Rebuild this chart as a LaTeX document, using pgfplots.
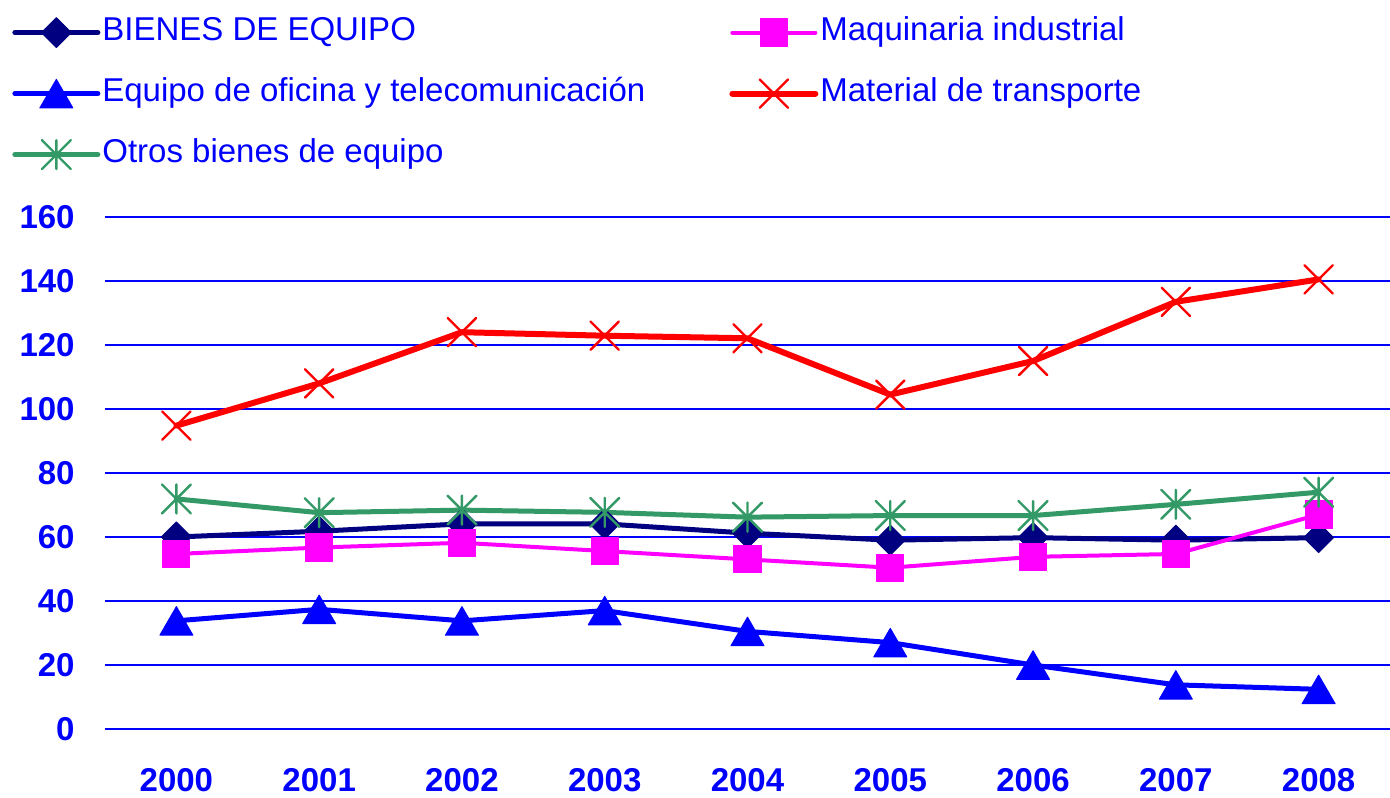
\documentclass[border=0pt]{standalone}
\usepackage{pgfplots}
\pgfplotsset{compat=1.18}
\usepackage{fontspec}
\setmainfont{Liberation Sans}
\definecolor{cnavy}{RGB}{0,0,128}
\definecolor{cmag}{RGB}{255,0,255}
\definecolor{cblue}{RGB}{0,0,255}
\definecolor{cred}{RGB}{255,0,0}
\definecolor{cgreen}{RGB}{51,153,102}
\pgfdeclareplotmark{xstar}{%
  \pgfpathmoveto{\pgfqpoint{0pt}{\pgfplotmarksize}}%
  \pgfpathlineto{\pgfqpoint{0pt}{-\pgfplotmarksize}}%
  \pgfpathmoveto{\pgfqpoint{-\pgfplotmarksize}{-\pgfplotmarksize}}%
  \pgfpathlineto{\pgfqpoint{\pgfplotmarksize}{\pgfplotmarksize}}%
  \pgfpathmoveto{\pgfqpoint{-\pgfplotmarksize}{\pgfplotmarksize}}%
  \pgfpathlineto{\pgfqpoint{\pgfplotmarksize}{-\pgfplotmarksize}}%
  \pgfusepathqstroke}
\begin{document}
\begin{tikzpicture}
\begin{axis}[
  at={(0,0)}, anchor=south west,
  scale only axis, width=642.5pt, height=256pt,
  xmin=1999.5, xmax=2008.5, ymin=0, ymax=160,
  xtick={2000,2001,2002,2003,2004,2005,2006,2007,2008},
  xticklabels={2000,2001,2002,2003,2004,2005,2006,2007,2008},
  ytick={0,20,40,60,80,100,120,140,160},
  yticklabels={0,20,40,60,80,100,120,140,160},
  ymajorgrids, grid style={cblue, line width=1pt},
  axis line style={draw=none}, major tick length=0pt, tick style={draw=none},
  ticklabel style={font=\fontsize{16.5}{20}\selectfont\bfseries, text=cblue},
  yticklabel style={anchor=east, inner sep=0pt, xshift=-15pt},
  xticklabel style={anchor=north, inner sep=0pt, yshift=-19.5pt},
  clip=false,
  legend columns=2, legend cell align=left,
  legend style={draw=none, fill=none, inner sep=0pt,
    at={(axis description cs:-0.0724,1.400)}, anchor=north west,
    font=\fontsize{16.5}{20}\selectfont, text=cblue,
    nodes={inner xsep=1pt, inner ysep=2pt, text height=12pt, text depth=4pt},
    /tikz/column 2/.style={column sep=41pt},
    row sep=10.5pt},
  legend image code/.code={\draw[mark repeat=2,mark phase=2,#1] plot coordinates {(0pt,0pt) (20.75pt,0pt) (41.5pt,0pt)};},
  every axis plot/.append style={line join=round, line cap=round},
]
\addplot[cnavy, line width=2.5pt, mark=square*, mark size=5.3pt, mark options={rotate=45, fill=cnavy, draw=cnavy, line width=0.5pt}]
  coordinates {(2000,60.0) (2001,61.8) (2002,64.1) (2003,64.1) (2004,61.2) (2005,59.0) (2006,59.8) (2007,59.0) (2008,59.8)};
\addlegendentry{BIENES DE EQUIPO}
\addplot[cmag, line width=2pt, mark=square*, mark size=6.8pt, mark options={fill=cmag, draw=cmag, line width=0.5pt, rounded corners=1pt}]
  coordinates {(2000,54.7) (2001,56.7) (2002,58.2) (2003,55.6) (2004,53.0) (2005,50.4) (2006,53.8) (2007,54.7) (2008,67.0)};
\addlegendentry{Maquinaria industrial}
\addplot[cblue, line width=2.5pt, mark=triangle*, mark size=9.5pt, mark options={fill=cblue, draw=cblue, line width=0.5pt, yshift=-2.4pt}]
  coordinates {(2000,33.8) (2001,37.4) (2002,33.8) (2003,37.0) (2004,30.5) (2005,27.0) (2006,20.0) (2007,13.8) (2008,12.4)};
\addlegendentry{Equipo de oficina y telecomunicación}
\addplot[cred, line width=3pt, mark=x, mark size=10pt, mark options={draw=cred, line width=1.2pt}]
  coordinates {(2000,94.8) (2001,108.0) (2002,124.0) (2003,122.9) (2004,122.1) (2005,104.5) (2006,115.0) (2007,133.5) (2008,140.5)};
\addlegendentry{Material de transporte}
\addplot[cgreen, line width=2.5pt, mark=xstar, mark size=7.25pt, mark options={draw=cgreen, line width=1.2pt}]
  coordinates {(2000,71.9) (2001,67.6) (2002,68.4) (2003,67.7) (2004,66.2) (2005,66.7) (2006,66.7) (2007,70.2) (2008,74.0)};
\addlegendentry{Otros bienes de equipo}
\end{axis}
\pgfresetboundingbox
\path (-52.5pt,-34pt) rectangle (642.5pt,364.5pt);
\end{tikzpicture}
\end{document}
